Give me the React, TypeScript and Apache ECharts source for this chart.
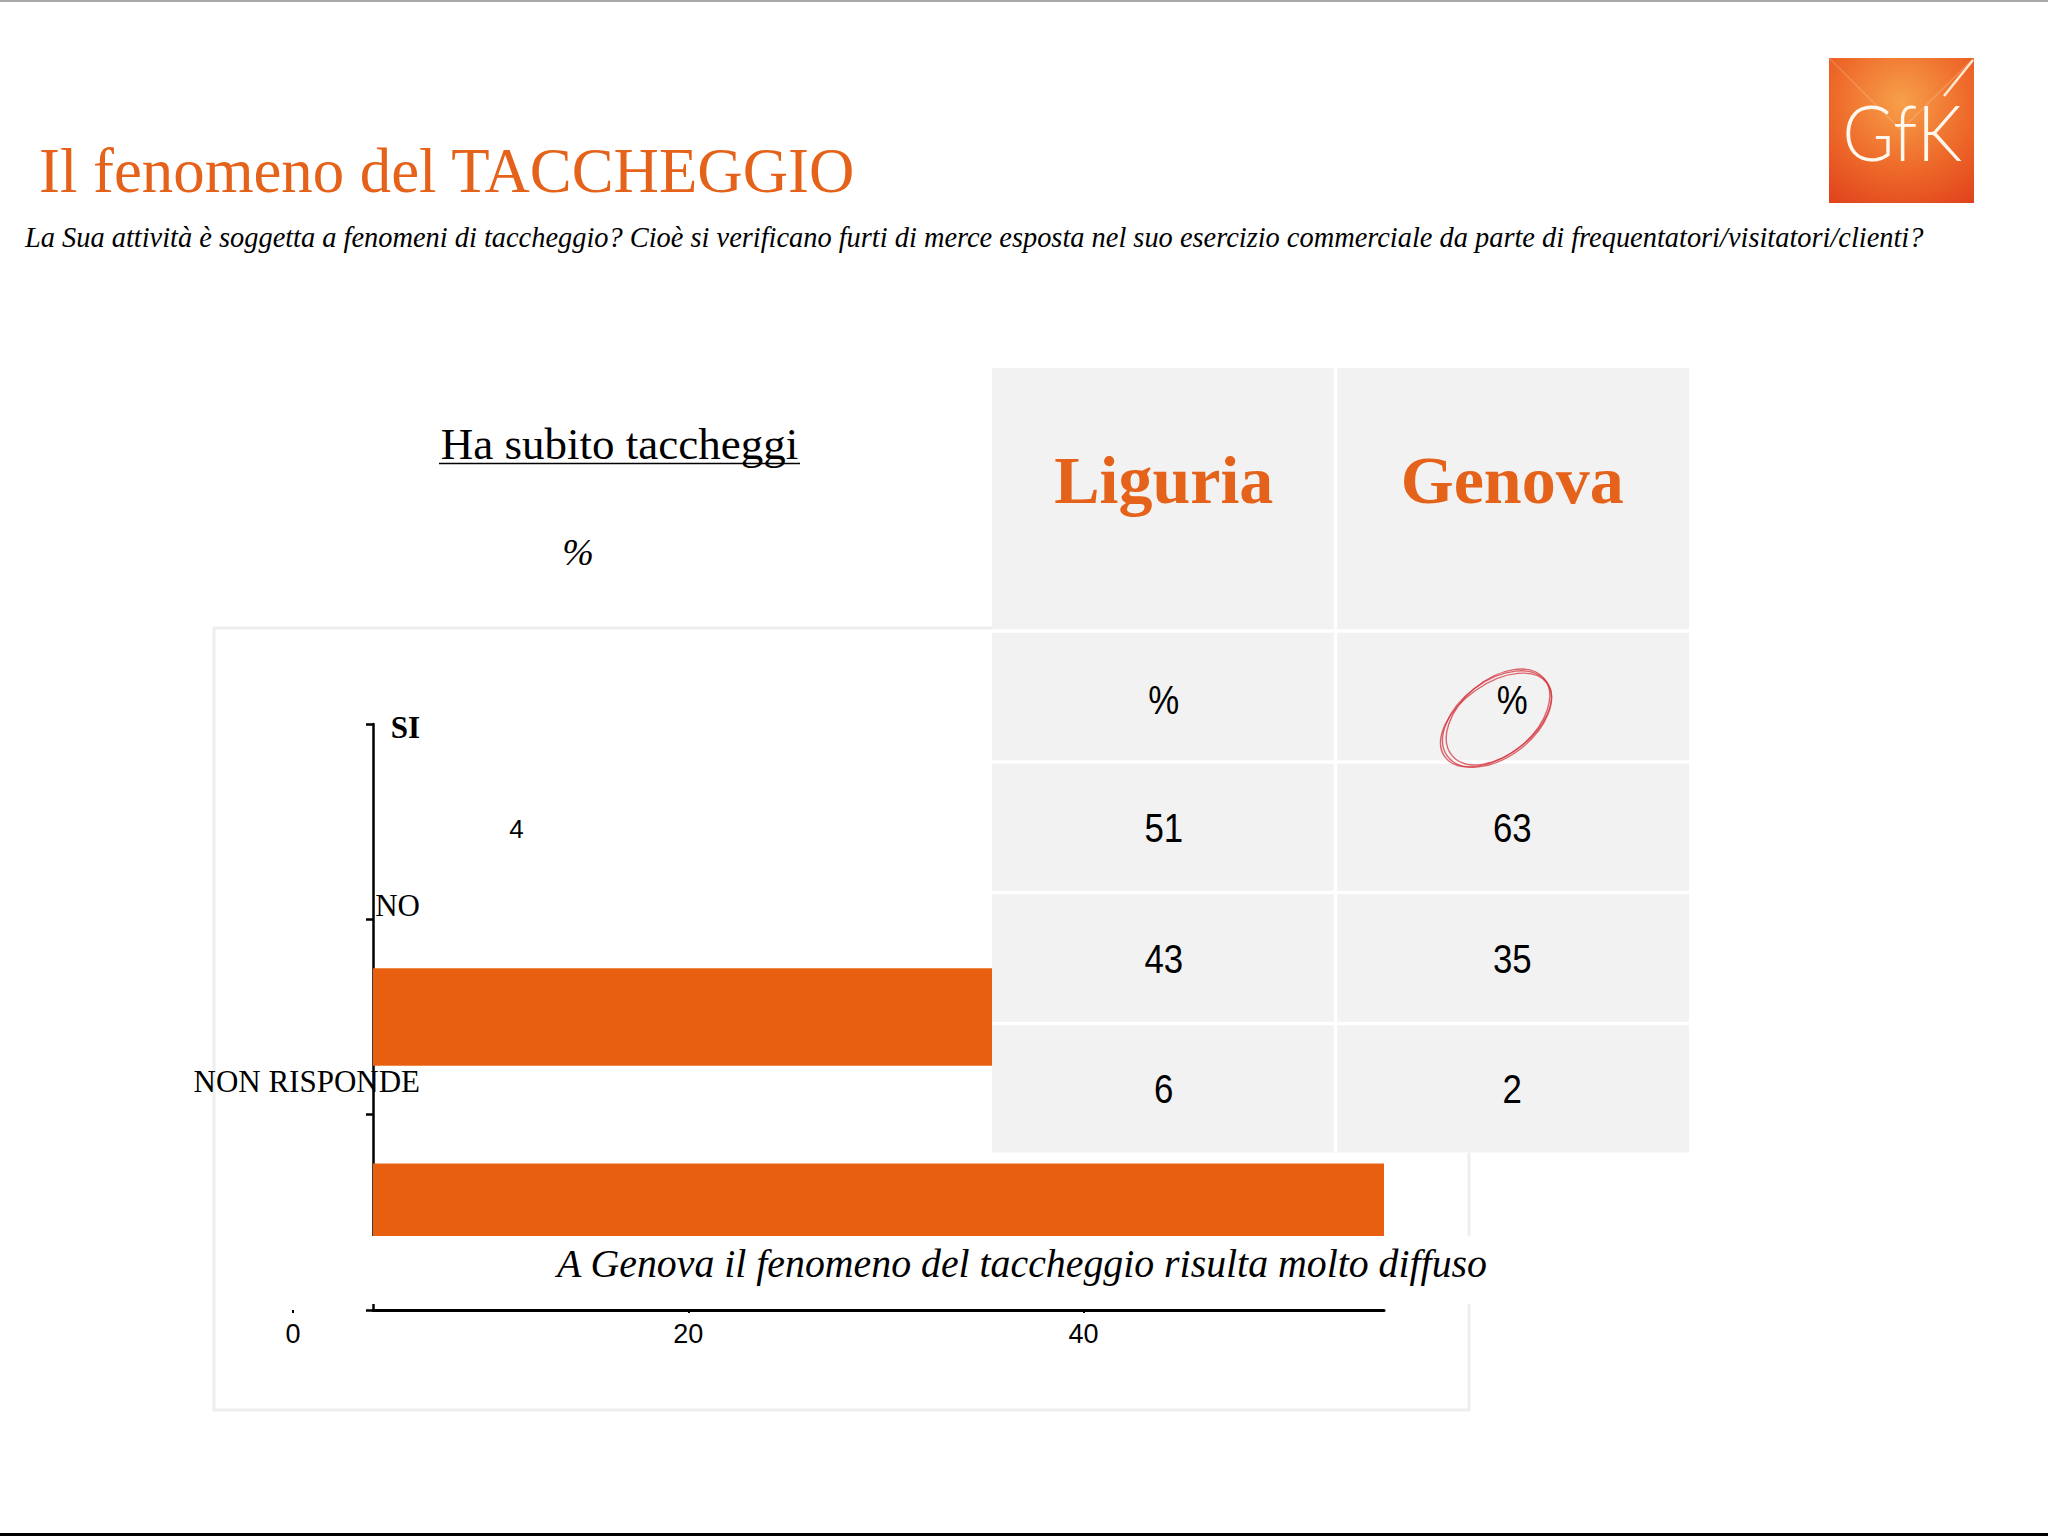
import React, { useEffect, useRef } from "react";
import * as echarts from "echarts";

// ---- data ----
const titleText = "Il fenomeno del TACCHEGGIO";
const questionText =
  "La Sua attività è soggetta a fenomeni di taccheggio? Cioè si verificano furti di merce esposta nel suo esercizio commerciale da parte di frequentatori/visitatori/clienti?";
const chartTitle = "Ha subito taccheggi";
const unitLabel = "%";
const captionText = "A Genova il fenomeno del taccheggio risulta molto diffuso";

const categories = ["SI", "NO", "NON RISPONDE"];
const barValues = [4, 43, 51];
const axisMax = 51;
const labelAxisMax = 40;
const labelAxisInterval = 20;

const tableColumns = ["Liguria", "Genova"];
const tableUnit = "%";
const liguriaValues = [51, 43, 6];
const genovaValues = [63, 35, 2];

// ---- layout ----
const ORANGE = "#E5621A";
const BAR = "#E8600F";
const colEdges = [992, 1335.5, 1689];
const rowEdges = [368, 631, 762, 892.5, 1023.5, 1152.5];
const GAP = 3.5;

function buildGraphic() {
  const g: any[] = [];
  // page lines
  g.push({ type: "line", z: 1, shape: { x1: 0, y1: 1, x2: 2048, y2: 1 }, style: { stroke: "#A8A8A8", lineWidth: 2 } });
  g.push({ type: "line", z: 1, shape: { x1: 0, y1: 1534.5, x2: 2048, y2: 1534.5 }, style: { stroke: "#000", lineWidth: 3 } });
  // title
  g.push({
    type: "text", z: 10, x: 39, y: 171,
    style: { text: titleText, fill: ORANGE, font: "62.8px 'Liberation Serif'", align: "left", verticalAlign: "middle" },
  });
  g.push({
    type: "text", z: 10, x: 25, y: 237,
    style: { text: questionText, fill: "#000", font: "italic 28.4px 'Liberation Serif'", align: "left", verticalAlign: "middle" },
  });
  // logo
  g.push({
    type: "rect", z: 10, shape: { x: 1829, y: 58, width: 145, height: 145 },
    style: {
      fill: {
        type: "radial", x: 0.5, y: 0.3, r: 0.85,
        colorStops: [
          { offset: 0, color: "#F7A04A" },
          { offset: 0.55, color: "#EE6A2A" },
          { offset: 1, color: "#E0421C" },
        ],
      },
    },
  });
  g.push({ type: "line", z: 11, shape: { x1: 1829, y1: 58, x2: 1901, y2: 130 }, style: { stroke: "rgba(255,220,190,0.25)", lineWidth: 1.5 } });
  g.push({ type: "line", z: 11, shape: { x1: 1974, y1: 58, x2: 1901, y2: 130 }, style: { stroke: "rgba(255,220,190,0.25)", lineWidth: 1.5 } });
  g.push({ type: "line", z: 12, shape: { x1: 1973, y1: 60, x2: 1944, y2: 96 }, style: { stroke: "rgba(255,245,225,0.9)", lineWidth: 2.5 } });
  g.push({
    type: "text", z: 12, x: 1902, y: 131, scaleX: 0.92,
    style: { text: "GfK", fill: "#FFF8EE", font: "300 77px Lato", align: "center", verticalAlign: "middle" },
  });
  // chart heading
  g.push({
    type: "text", z: 10, x: 619.5, y: 444,
    style: { text: chartTitle, fill: "#000", font: "45px 'Liberation Serif'", align: "center", verticalAlign: "middle" },
  });
  g.push({ type: "line", z: 10, shape: { x1: 439, y1: 463.5, x2: 800, y2: 463.5 }, style: { stroke: "#000", lineWidth: 1.5 } });
  g.push({
    type: "text", z: 10, x: 578, y: 552,
    style: { text: unitLabel, fill: "#000", font: "italic 38px 'Liberation Serif'", align: "center", verticalAlign: "middle" },
  });
  // chart box
  g.push({
    type: "rect", z: 0, shape: { x: 214, y: 628, width: 1255, height: 782 },
    style: { fill: "none", stroke: "#EEEEEE", lineWidth: 3 },
  });
  // table background (white gaps between cells)
  g.push({
    type: "rect", z: 49,
    shape: { x: colEdges[0], y: rowEdges[0], width: colEdges[2] - colEdges[0], height: rowEdges[rowEdges.length - 1] - rowEdges[0] },
    style: { fill: "#FFFFFF" },
  });
  // table cells
  for (let c = 0; c < 2; c++) {
    for (let r = 0; r < rowEdges.length - 1; r++) {
      const x0 = colEdges[c] + (c === 0 ? 0 : GAP / 2);
      const x1 = colEdges[c + 1] - (c === 1 ? 0 : GAP / 2);
      const y0 = rowEdges[r] + (r === 0 ? 0 : GAP / 2);
      const y1 = rowEdges[r + 1] - (r === rowEdges.length - 2 ? 0 : GAP / 2);
      g.push({ type: "rect", z: 50, shape: { x: x0, y: y0, width: x1 - x0, height: y1 - y0 }, style: { fill: "#F2F2F2" } });
    }
  }
  const colData = [liguriaValues, genovaValues];
  for (let c = 0; c < 2; c++) {
    const cx = (colEdges[c] + colEdges[c + 1]) / 2;
    g.push({
      type: "text", z: 60, x: cx, y: 480,
      style: { text: tableColumns[c], fill: ORANGE, font: "bold 68px 'Liberation Serif'", align: "center", verticalAlign: "middle" },
    });
    const cells = [tableUnit, ...colData[c].map(String)];
    for (let r = 0; r < cells.length; r++) {
      const cy = (rowEdges[r + 1] + rowEdges[r + 2]) / 2 + (r === 0 ? 4 : 1);
      g.push({
        type: "text", z: 60, x: cx, y: cy, scaleX: 0.87,
        style: { text: cells[r], fill: "#000", font: "40px 'Liberation Sans'", align: "center", verticalAlign: "middle" },
      });
    }
  }
  // hand drawn circle
  const ell = [
    { rx: 62, ry: 38, rot: 0.65, dx: 0, dy: 0 },
    { rx: 60, ry: 37, rot: 0.7, dx: 1, dy: -2 },
    { rx: 63, ry: 36, rot: 0.62, dx: -1, dy: 1 },
  ];
  ell.forEach((e) =>
    g.push({
      type: "ellipse", z: 70, x: 1497 + e.dx, y: 719 + e.dy, rotation: e.rot,
      shape: { cx: 0, cy: 0, rx: e.rx, ry: e.ry },
      style: { fill: "none", stroke: "rgba(214,52,62,0.75)", lineWidth: 1.4 },
    })
  );
  // caption with white box
  g.push({ type: "rect", z: 40, shape: { x: 360, y: 1236, width: 1135, height: 68 }, style: { fill: "#FFFFFF" } });
  g.push({
    type: "text", z: 45, x: 557, y: 1264,
    style: { text: captionText, fill: "#000", font: "italic 39.8px 'Liberation Serif'", align: "left", verticalAlign: "middle" },
  });
  return g;
}

export default function App() {
  const ref = useRef<HTMLDivElement>(null);
  useEffect(() => {
    if (!ref.current) return;
    const chart = echarts.init(ref.current, undefined, { renderer: "svg" });
    const catPad = [188, 224, 262];
    const option: any = {
      animation: false,
      backgroundColor: "#FFFFFF",
      grid: [
        { left: 373, top: 724, width: 1011, height: 586 },
        { left: 293, top: 724, width: 790.5, height: 586 },
      ],
      xAxis: [
        {
          gridIndex: 0, type: "value", min: 0, max: axisMax,
          axisLine: { show: true, lineStyle: { color: "#000", width: 3 } },
          axisTick: { show: false }, axisLabel: { show: false }, splitLine: { show: false },
        },
        {
          gridIndex: 1, type: "value", min: 0, max: labelAxisMax, interval: labelAxisInterval,
          axisLine: { show: false },
          axisTick: { show: true, length: 3, lineStyle: { color: "#000", width: 2 } },
          axisLabel: { show: true, margin: 10, color: "#000", fontSize: 27, fontFamily: "'Liberation Sans'" },
          splitLine: { show: false },
        },
      ],
      yAxis: [
        {
          gridIndex: 0, type: "category", data: categories, inverse: true,
          axisLine: { show: true, lineStyle: { color: "#000", width: 2.5 } },
          axisTick: { show: true, length: 7, lineStyle: { color: "#000", width: 2.5 } },
          axisLabel: {
            show: true, margin: -47, color: "#000",
            formatter: (v: string, i: number) => `{c${i}|${v}}`,
            rich: {
              c0: { fontFamily: "'Liberation Serif'", fontSize: 31, fontWeight: "bold", color: "#000", padding: [0, 0, catPad[0], 0] },
              c1: { fontFamily: "'Liberation Serif'", fontSize: 31, color: "#000", padding: [0, 0, catPad[1], 0] },
              c2: { fontFamily: "'Liberation Serif'", fontSize: 31, color: "#000", padding: [0, 0, catPad[2], 0] },
            },
          },
          splitLine: { show: false },
        },
        { gridIndex: 1, type: "category", data: categories, show: false },
      ],
      series: [
        {
          type: "bar", xAxisIndex: 0, yAxisIndex: 0, barCategoryGap: "50%",
          data: barValues.map((v, i) =>
            i === 0
              ? {
                  value: v,
                  itemStyle: { color: "rgba(0,0,0,0)" },
                  label: {
                    show: true, position: "right", distance: 57, offset: [0, 7],
                    color: "#000", fontSize: 26, fontFamily: "'Liberation Sans'",
                  },
                }
              : { value: v }
          ),
          itemStyle: { color: BAR },
          z: 2,
        },
      ],
      graphic: { elements: buildGraphic() },
    };
    chart.setOption(option);
    return () => chart.dispose();
  }, []);
  return (
    <div
      ref={ref}
      style={{ position: "fixed", left: 0, top: 0, width: 2048, height: 1536, background: "#fff" }}
    />
  );
}
